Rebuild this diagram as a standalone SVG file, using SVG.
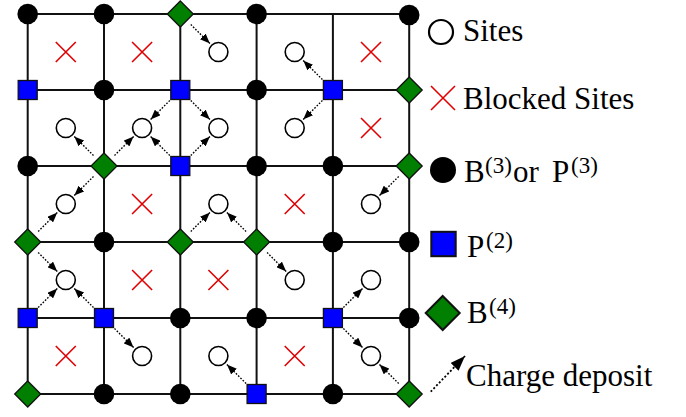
<svg xmlns="http://www.w3.org/2000/svg" width="686" height="417" viewBox="0 0 686 417">
<style>
.grid{stroke:#111;stroke-width:2;fill:none}
.b3{fill:#000}
.p2{fill:#0000ff;stroke:#111;stroke-width:1.3}
.b4{fill:#007f00;stroke:#111;stroke-width:1.3}
.site{fill:#fff;stroke:#000;stroke-width:1.6}
.blk{stroke:#e00000;stroke-width:1.6;fill:none}
.arr{stroke:#000;stroke-width:1.4;stroke-dasharray:1.6 1.6;fill:none;marker-end:url(#ah)}
.txt{font-family:"Liberation Serif",serif;font-size:31px;fill:#000}
.sup{font-size:23px}
</style>
<defs>
<marker id="ah" markerUnits="userSpaceOnUse" markerWidth="10" markerHeight="8" refX="10" refY="4" orient="auto">
<path d="M0,0 L10,4 L0,8 z" fill="#000"/>
</marker>
<marker id="ahL" markerUnits="userSpaceOnUse" markerWidth="15" markerHeight="11" refX="15" refY="5.5" orient="auto">
<path d="M0,0 L15,5.5 L0,11 z" fill="#000"/>
</marker>
</defs>
<g id="grid" class="grid">
<path d="M27.7,14H409.2M27.7,90H409.2M27.7,166H409.2M27.7,242H409.2M27.7,318H409.2M27.7,394H409.2"/>
<path d="M27.7,14V394M104,14V394M180.3,14V394M256.6,14V394M332.9,14V394M409.2,14V394"/>
</g>
<g id="connectors">
<path class="arr" d="M190.8,24.5L209.9,43.5"/>
<path class="arr" d="M169.8,100.5L150.6,119.5"/>
<path class="arr" d="M190.8,100.5L209.9,119.5"/>
<path class="arr" d="M93.5,155.5L74.3,136.5"/>
<path class="arr" d="M114.5,155.5L133.6,136.5"/>
<path class="arr" d="M93.5,176.5L74.3,195.5"/>
<path class="arr" d="M169.8,155.5L150.6,136.5"/>
<path class="arr" d="M190.8,155.5L209.9,136.5"/>
<path class="arr" d="M322.4,79.5L303.2,60.5"/>
<path class="arr" d="M322.4,100.5L303.2,119.5"/>
<path class="arr" d="M398.7,176.5L379.5,195.5"/>
<path class="arr" d="M38.2,231.5L57.3,212.5"/>
<path class="arr" d="M38.2,252.5L57.3,271.5"/>
<path class="arr" d="M190.8,231.5L209.9,212.5"/>
<path class="arr" d="M246.1,231.5L226.9,212.5"/>
<path class="arr" d="M267.1,252.5L286.2,271.5"/>
<path class="arr" d="M38.2,307.5L57.3,288.5"/>
<path class="arr" d="M93.5,307.5L74.3,288.5"/>
<path class="arr" d="M114.5,328.5L133.6,347.5"/>
<path class="arr" d="M343.4,307.5L362.5,288.5"/>
<path class="arr" d="M343.4,328.5L362.5,347.5"/>
<path class="arr" d="M398.7,383.5L379.5,364.5"/>
<path class="arr" d="M246.1,383.5L226.9,364.5"/>
</g>
<g id="sites">
<g id="s20"><circle class="site" cx="218.4" cy="52" r="9.5"/></g>
<g id="s30"><circle class="site" cx="294.7" cy="52" r="9.5"/></g>
<g id="s01"><circle class="site" cx="65.8" cy="128" r="9.5"/></g>
<g id="s11"><circle class="site" cx="142.1" cy="128" r="9.5"/></g>
<g id="s21"><circle class="site" cx="218.4" cy="128" r="9.5"/></g>
<g id="s31"><circle class="site" cx="294.7" cy="128" r="9.5"/></g>
<g id="s02"><circle class="site" cx="65.8" cy="204" r="9.5"/></g>
<g id="s22"><circle class="site" cx="218.4" cy="204" r="9.5"/></g>
<g id="s42"><circle class="site" cx="371" cy="204" r="9.5"/></g>
<g id="s03"><circle class="site" cx="65.8" cy="280" r="9.5"/></g>
<g id="s33"><circle class="site" cx="294.7" cy="280" r="9.5"/></g>
<g id="s43"><circle class="site" cx="371" cy="280" r="9.5"/></g>
<g id="s14"><circle class="site" cx="142.1" cy="356" r="9.5"/></g>
<g id="s24"><circle class="site" cx="218.4" cy="356" r="9.5"/></g>
<g id="s44"><circle class="site" cx="371" cy="356" r="9.5"/></g>
</g>
<g id="blocked" class="blk">
<path d="M55.8,42l20,20m0,-20l-20,20"/>
<path d="M132.1,42l20,20m0,-20l-20,20"/>
<path d="M361,42l20,20m0,-20l-20,20"/>
<path d="M361,118l20,20m0,-20l-20,20"/>
<path d="M132.1,194l20,20m0,-20l-20,20"/>
<path d="M284.7,194l20,20m0,-20l-20,20"/>
<path d="M132.1,270l20,20m0,-20l-20,20"/>
<path d="M208.4,270l20,20m0,-20l-20,20"/>
<path d="M55.8,346l20,20m0,-20l-20,20"/>
<path d="M284.7,346l20,20m0,-20l-20,20"/>
</g>
<g id="vertices">
<g id="n00"><circle class="b3" cx="27.7" cy="14" r="10.3"/></g>
<g id="n10"><circle class="b3" cx="104" cy="14" r="10.3"/></g>
<g id="n20"><path class="b4" d="M180.3,1l13,13l-13,13l-13,-13z"/></g>
<g id="n30"><circle class="b3" cx="256.6" cy="14" r="10.3"/></g>
<g id="n50"><circle class="b3" cx="409.2" cy="15" r="10.3"/></g>
<g id="n01"><rect class="p2" x="18.2" y="80.5" width="19" height="19"/></g>
<g id="n11"><circle class="b3" cx="104" cy="90" r="10.3"/></g>
<g id="n21"><rect class="p2" x="170.8" y="80.5" width="19" height="19"/></g>
<g id="n31"><circle class="b3" cx="256.6" cy="90" r="10.3"/></g>
<g id="n41"><rect class="p2" x="323.4" y="80.5" width="19" height="19"/></g>
<g id="n51"><path class="b4" d="M409.2,77l13,13l-13,13l-13,-13z"/></g>
<g id="n02"><circle class="b3" cx="27.7" cy="166" r="10.3"/></g>
<g id="n12"><path class="b4" d="M104,153l13,13l-13,13l-13,-13z"/></g>
<g id="n22"><rect class="p2" x="170.8" y="156.5" width="19" height="19"/></g>
<g id="n32"><circle class="b3" cx="256.6" cy="166" r="10.3"/></g>
<g id="n42"><circle class="b3" cx="332.9" cy="166" r="10.3"/></g>
<g id="n52"><path class="b4" d="M409.2,153l13,13l-13,13l-13,-13z"/></g>
<g id="n03"><path class="b4" d="M27.7,229l13,13l-13,13l-13,-13z"/></g>
<g id="n13"><circle class="b3" cx="104" cy="242" r="10.3"/></g>
<g id="n23"><path class="b4" d="M180.3,229l13,13l-13,13l-13,-13z"/></g>
<g id="n33"><path class="b4" d="M256.6,229l13,13l-13,13l-13,-13z"/></g>
<g id="n43"><circle class="b3" cx="332.9" cy="242" r="10.3"/></g>
<g id="n53"><circle class="b3" cx="409.2" cy="242" r="10.3"/></g>
<g id="n04"><rect class="p2" x="18.2" y="308.5" width="19" height="19"/></g>
<g id="n14"><rect class="p2" x="94.5" y="308.5" width="19" height="19"/></g>
<g id="n24"><circle class="b3" cx="180.3" cy="318" r="10.3"/></g>
<g id="n34"><circle class="b3" cx="256.6" cy="318" r="10.3"/></g>
<g id="n44"><rect class="p2" x="323.4" y="308.5" width="19" height="19"/></g>
<g id="n54"><circle class="b3" cx="409.2" cy="318" r="10.3"/></g>
<g id="n05"><path class="b4" d="M27.7,381l13,13l-13,13l-13,-13z"/></g>
<g id="n15"><circle class="b3" cx="104" cy="394" r="10.3"/></g>
<g id="n25"><circle class="b3" cx="180.3" cy="394" r="10.3"/></g>
<g id="n35"><rect class="p2" x="247.1" y="384.5" width="19" height="19"/></g>
<g id="n45"><circle class="b3" cx="332.9" cy="394" r="10.3"/></g>
<g id="n55"><path class="b4" d="M409.2,381l13,13l-13,13l-13,-13z"/></g>
</g>
<g id="legend">
<g id="leg-sites"><circle cx="441" cy="32" r="12" fill="#fff" stroke="#000" stroke-width="2.2"/><text class="txt" x="463" y="41">Sites</text></g>
<g id="leg-blocked"><path class="blk" d="M431,86l24,24m0,-24l-24,24"/><text class="txt" x="463" y="109">Blocked Sites</text></g>
<g id="leg-b3"><circle class="b3" cx="443" cy="170" r="13"/><text class="txt" x="464" y="182">B<tspan class="sup" x="485" y="173">(3)</tspan><tspan x="513" y="182">or</tspan><tspan x="552" y="182">P</tspan><tspan class="sup" x="571" y="173">(3)</tspan></text></g>
<g id="leg-p2"><rect x="431.3" y="231.8" width="24.4" height="24.4" fill="#0000ff" stroke="#111" stroke-width="2"/><text class="txt" x="467" y="257">P<tspan class="sup" x="486" y="248">(2)</tspan></text></g>
<g id="leg-b4"><path d="M442.7,296l17,17l-17,17l-17,-17z" fill="#007f00" stroke="#111" stroke-width="2"/><text class="txt" x="467" y="323">B<tspan class="sup" x="489" y="314">(4)</tspan></text></g>
<g id="leg-charge"><path d="M430.7,391.7L465,356" stroke="#000" stroke-width="1.8" stroke-dasharray="2 2" fill="none" marker-end="url(#ahL)"/><text class="txt" x="466" y="386">Charge deposit</text></g>
</g>
</svg>
